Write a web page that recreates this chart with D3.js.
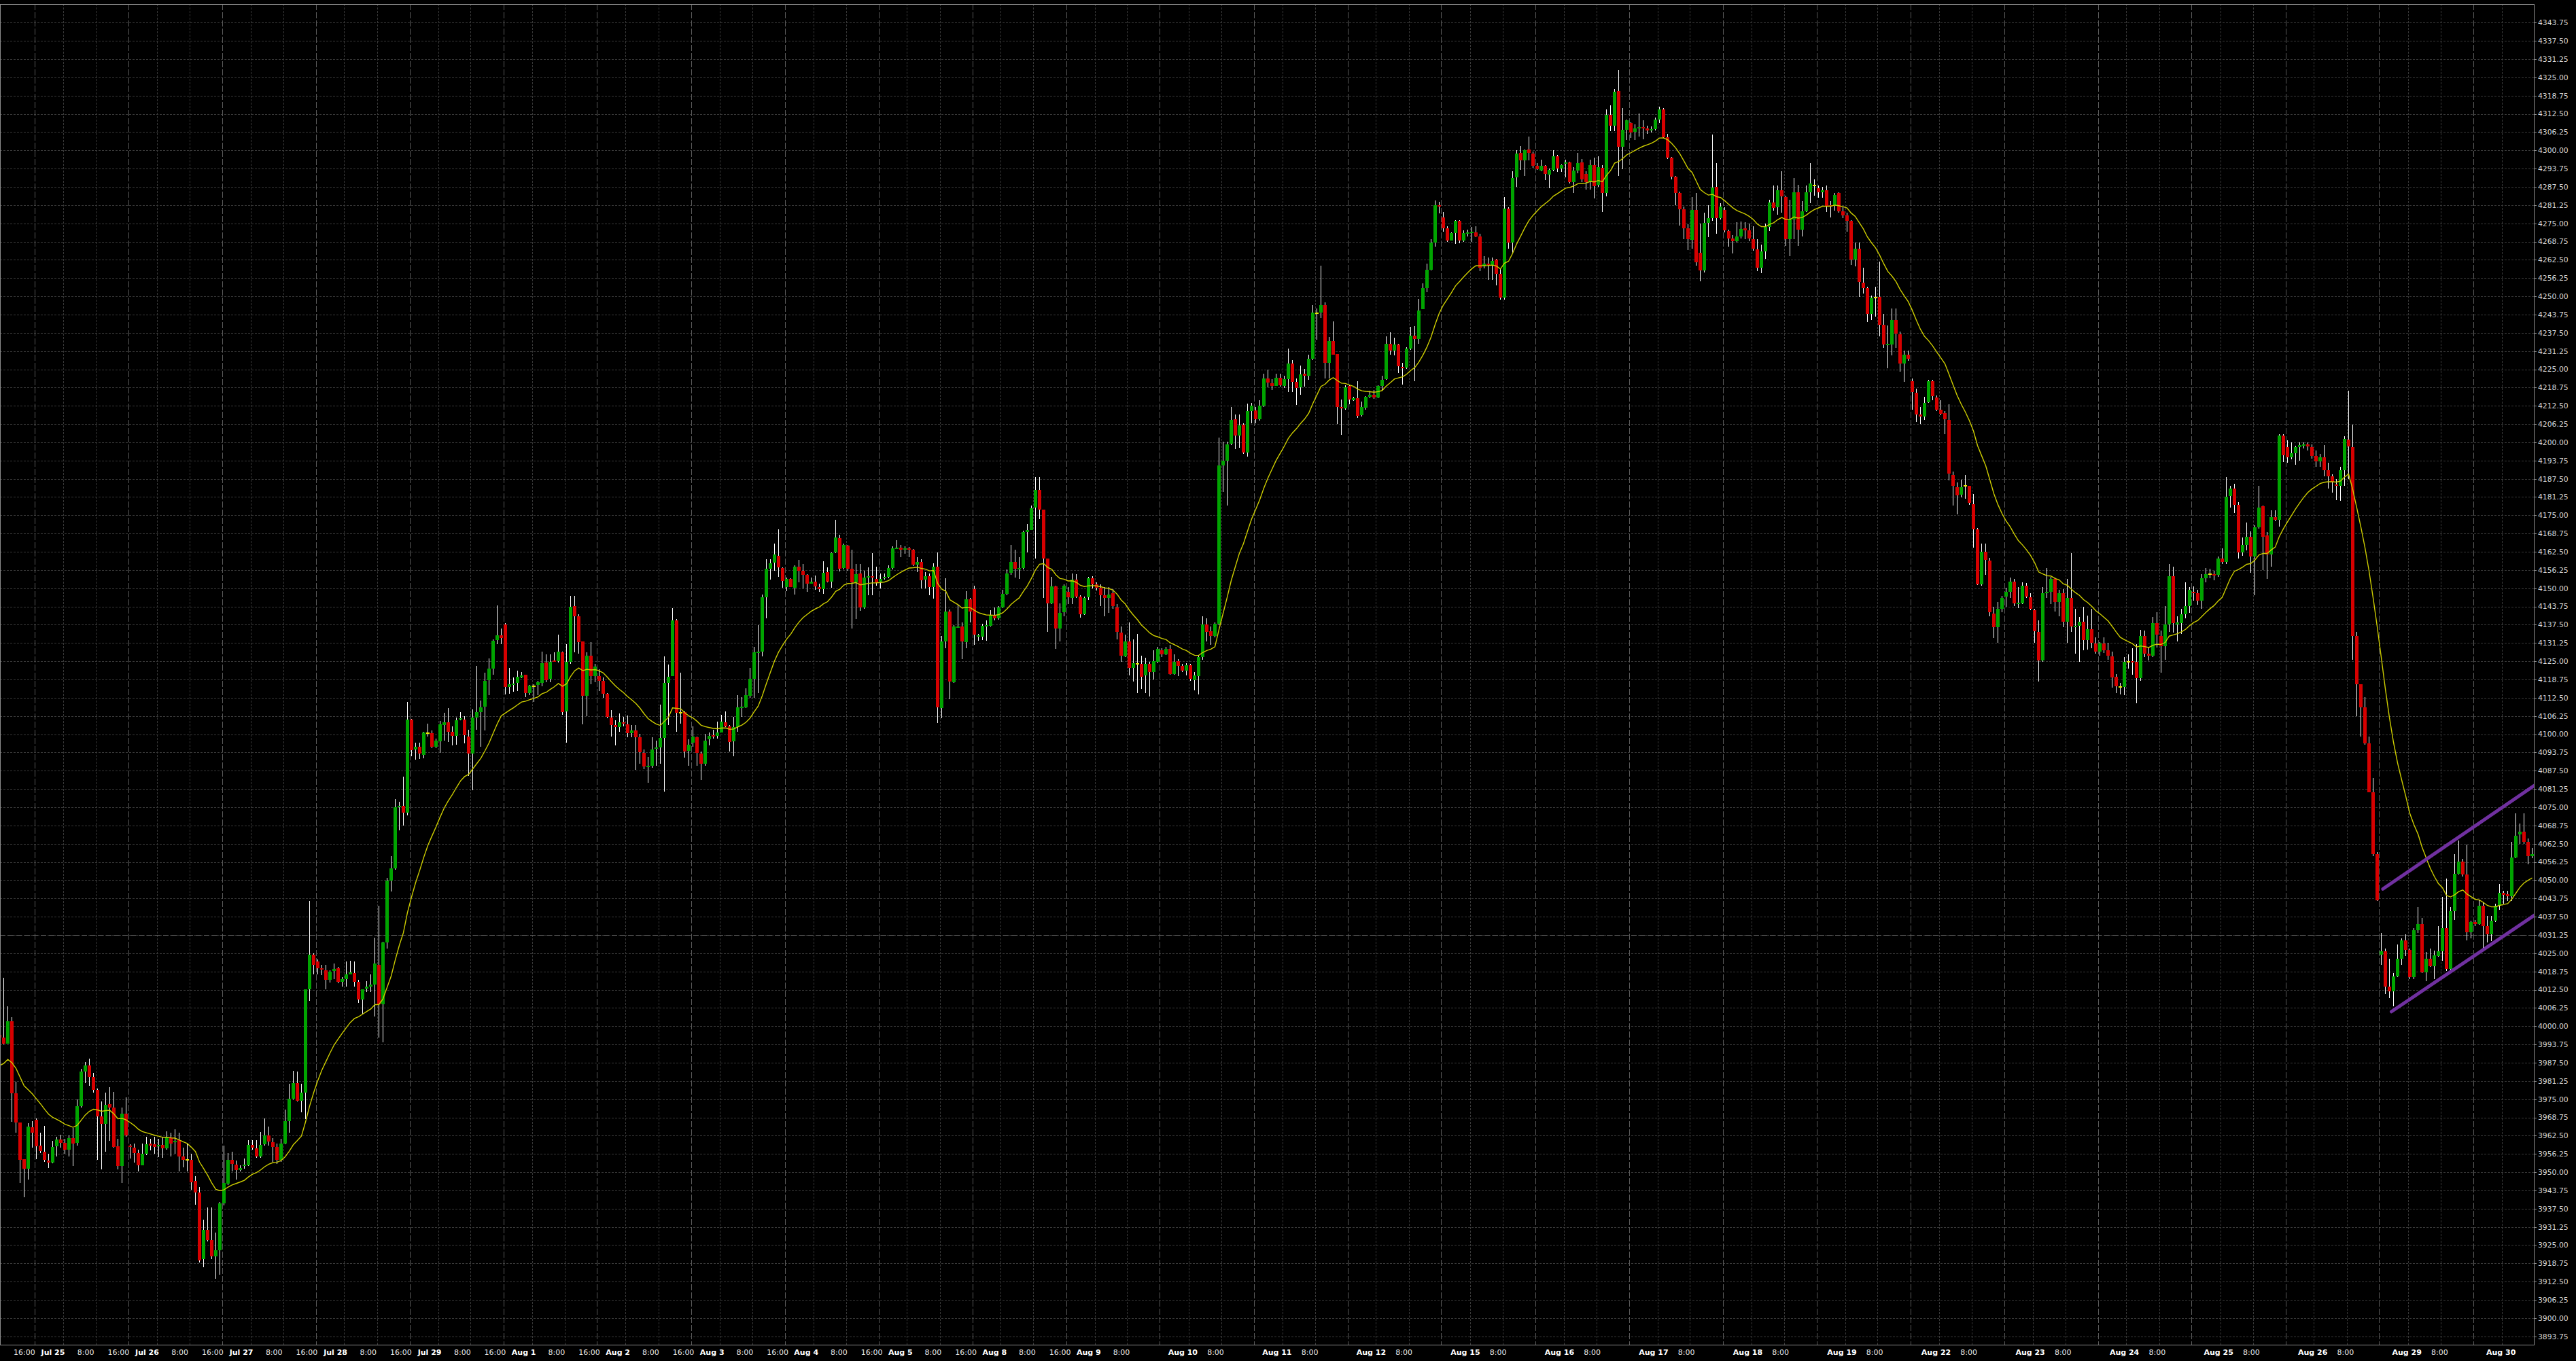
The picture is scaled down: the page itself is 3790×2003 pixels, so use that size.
<!DOCTYPE html>
<html><head><meta charset="utf-8">
<script src="https://cdn.jsdelivr.net/npm/d3@7"></script>
<style>html,body{margin:0;padding:0;background:#000;overflow:hidden}</style>
</head><body><svg id="c" width="3790" height="2003"></svg>
<script>
// ---------- DATA (hourly OHLC) ----------
const open=[
3997.1,3996.2,3994.1,4001.6,3977.0,3967.0,3954.5,3951.2,3965.3,3968.0,
3959.0,3957.1,3953.9,3953.3,3958.9,3961.3,3960.1,3957.8,3961.6,3960.1,
3972.5,3984.5,3986.5,3982.7,3978.2,3969.2,3966.5,3973.4,3972.2,3958.9,
3952.1,3970.1,3959.2,3958.4,3956.5,3952.4,3956.2,3959.8,3959.5,3958.9,
3959.3,3958.1,3961.9,3960.2,3960.9,3955.4,3954.1,3954.1,3946.9,3943.0,
3920.2,3930.2,3926.8,3921.2,3923.2,3939.4,3946.1,3954.1,3952.6,3950.8,
3952.0,3952.3,3959.3,3958.1,3955.3,3959.5,3962.5,3960.2,3958.6,3954.2,
3959.8,3967.4,3975.2,3980.5,3974.5,3977.2,4012.7,4024.4,4022.2,4019.9,
4019.2,4015.9,4018.9,4019.9,4015.3,4016.2,4017.7,4018.1,4015.1,4009.1,
4012.9,4013.6,4014.2,4021.1,4007.5,4028.6,4049.9,4054.0,4074.9,4075.4,
4073.2,4105.0,4094.8,4095.8,4093.0,4100.4,4100.3,4095.7,4097.6,4103.2,
4104.1,4100.9,4099.5,4105.1,4105.0,4099.3,4093.4,4105.7,4107.5,4109.4,
4118.5,4122.4,4132.3,4133.9,4137.6,4116.2,4116.9,4117.5,4119.5,4120.3,
4114.0,4116.4,4116.9,4117.6,4124.5,4119.0,4125.2,4125.1,4128.0,4107.7,
4124.8,4143.9,4140.4,4131.8,4113.1,4126.8,4120.0,4119.9,4118.3,4113.8,
4105.8,4103.1,4102.4,4104.1,4103.4,4100.3,4101.3,4098.9,4093.6,4088.8,
4089.2,4095.0,4095.4,4098.8,4117.5,4119.9,4139.0,4107.4,4107.5,4094.4,
4097.2,4098.9,4093.4,4089.9,4098.3,4099.7,4099.5,4100.6,4104.1,4102.7,
4097.6,4102.4,4108.9,4109.3,4113.1,4119.1,4127.9,4128.4,4146.9,4156.6,
4158.7,4161.2,4157.0,4150.4,4153.2,4150.2,4157.5,4156.0,4154.7,4151.6,
4152.2,4150.5,4149.6,4155.5,4152.2,4162.3,4167.1,4157.0,4164.6,4156.7,
4152.1,4155.0,4143.5,4153.6,4154.1,4153.2,4152.2,4153.5,4153.8,4157.0,
4163.5,4164.0,4163.3,4163.6,4163.3,4158.1,4159.0,4152.9,4154.1,4150.5,
4157.3,4109.0,4131.9,4142.0,4117.9,4136.5,4136.8,4131.6,4146.2,4149.8,
4133.5,4133.5,4136.9,4137.1,4140.7,4139.6,4143.5,4148.0,4155.2,4159.1,
4156.5,4157.0,4169.2,4170.0,4177.6,4183.6,4177.0,4160.2,4144.8,4150.6,
4136.3,4141.7,4148.7,4146.6,4152.9,4147.2,4141.1,4146.8,4153.4,4151.3,
4150.1,4147.7,4146.6,4148.4,4143.5,4134.8,4126.7,4131.8,4122.8,4124.1,
4124.2,4120.2,4124.2,4121.4,4124.8,4128.8,4127.4,4129.2,4120.7,4125.0,
4123.4,4121.7,4123.6,4118.6,4120.0,4126.4,4137.6,4135.2,4133.7,4137.8,
4192.1,4193.6,4199.5,4207.8,4202.3,4206.1,4196.5,4210.7,4210.9,4208.0,
4212.6,4221.8,4220.2,4219.4,4222.2,4219.4,4221.6,4227.0,4220.7,4218.9,
4223.5,4222.7,4228.6,4244.2,4244.4,4247.0,4227.3,4234.7,4230.3,4212.1,
4211.7,4219.3,4214.5,4215.1,4209.3,4211.9,4215.6,4216.2,4215.3,4219.3,
4221.6,4233.7,4231.3,4233.4,4225.8,4225.5,4232.0,4236.6,4235.4,4245.5,
4252.9,4259.1,4268.4,4281.2,4277.0,4273.4,4269.2,4271.7,4275.9,4269.2,
4271.5,4271.8,4272.0,4270.5,4260.3,4261.3,4260.7,4262.5,4257.6,4249.5,
4280.0,4268.5,4290.8,4299.1,4296.6,4300.3,4298.9,4294.6,4293.1,4294.7,
4291.7,4293.2,4298.0,4293.8,4295.5,4295.9,4289.1,4293.1,4295.9,4291.8,
4289.1,4294.9,4288.2,4294.0,4285.5,4312.1,4308.4,4320.2,4301.3,4307.1,
4309.4,4306.3,4307.5,4307.9,4307.6,4306.9,4307.2,4310.6,4314.1,4304.5,
4297.4,4290.9,4285.3,4279.8,4273.2,4269.3,4279.6,4265.0,4258.9,4275.1,
4276.7,4287.4,4276.9,4279.6,4272.4,4269.7,4268.9,4270.5,4273.2,4272.5,
4269.6,4266.1,4259.9,4265.4,4273.8,4282.1,4280.6,4286.4,4284.0,4269.6,
4276.3,4285.7,4272.8,4279.0,4285.6,4288.0,4287.0,4285.6,4286.4,4281.2,
4280.9,4285.3,4279.0,4277.7,4275.8,4262.5,4266.2,4254.7,4252.8,4244.0,
4249.6,4249.8,4240.3,4233.4,4233.4,4241.8,4237.0,4226.9,4229.9,4221.0,
4217.0,4209.5,4208.9,4213.6,4220.9,4215.3,4211.2,4209.9,4207.6,4188.9,
4184.7,4182.0,4185.0,4185.0,4178.9,4170.1,4151.3,4162.6,4159.5,4141.3,
4136.6,4143.0,4147.1,4148.8,4152.3,4144.6,4144.8,4150.8,4146.9,4142.4,
4135.0,4125.2,4148.3,4148.7,4153.1,4145.2,4148.4,4138.5,4146.6,4136.7,
4137.2,4138.5,4132.3,4135.9,4131.1,4128.4,4131.0,4128.8,4126.6,4119.6,
4116.1,4116.1,4124.8,4125.0,4124.8,4119.3,4133.7,4127.7,4126.9,4138.0,
4133.7,4130.2,4137.7,4154.2,4137.7,4138.0,4141.1,4144.0,4148.8,4148.3,
4145.7,4153.5,4154.9,4154.9,4154.5,4160.2,4159.1,4181.7,4184.2,4178.6,
4162.2,4164.8,4167.6,4160.9,4170.8,4178.0,4168.0,4161.6,4174.4,4173.5,
4202.3,4198.3,4194.9,4196.3,4198.3,4198.9,4199.2,4198.3,4195.4,4193.5,
4194.9,4190.4,4188.4,4185.6,4185.2,4190.4,4201.0,4198.3,4133.7,4117.1,
4109.3,4096.8,4080.1,4059.0,4024.4,4025.7,4013.6,4012.0,4017.0,4023.0,
4029.4,4026.1,4016.7,4032.8,4035.0,4018.4,4023.2,4020.6,4024.1,4025.7,
4033.6,4019.5,4039.5,4052.2,4056.4,4051.9,4032.2,4035.7,4035.0,4041.3,
4034.3,4031.5,4036.1,4041.3,4045.6,4045.2,4044.6,4057.8,4065.6,4066.7,
4063.2,4058.3];
const high=[
3998.2,4016.5,4006.7,4003.0,3980.9,3967.0,3954.5,3966.7,3967.4,3968.5,
3963.4,3965.9,3956.2,3960.7,3962.2,3962.9,3961.4,3962.5,3965.2,3974.9,
3985.4,3987.7,3988.9,3983.9,3978.7,3974.2,3977.2,3979.0,3977.5,3961.4,
3972.2,3975.7,3959.5,3959.9,3957.7,3959.9,3962.2,3961.4,3962.2,3961.4,
3962.2,3963.9,3963.4,3964.6,3963.4,3958.4,3959.9,3956.2,3948.7,3944.9,
3933.7,3937.9,3937.9,3929.2,3939.7,3959.2,3956.5,3956.9,3953.9,3952.3,
3954.7,3961.0,3961.0,3961.0,3963.7,3968.5,3965.5,3961.6,3959.9,3961.4,
3971.5,3980.2,3984.7,3984.4,3980.2,4012.7,4042.9,4024.9,4022.9,4021.0,
4021.0,4019.2,4021.4,4020.2,4016.8,4022.2,4022.5,4022.2,4015.9,4012.7,
4015.4,4017.7,4030.4,4041.2,4028.9,4050.7,4058.2,4077.7,4076.9,4085.5,
4111.0,4105.3,4097.2,4097.2,4100.9,4103.6,4101.3,4098.5,4104.5,4107.3,
4108.9,4102.8,4105.7,4107.6,4106.3,4101.6,4108.4,4123.4,4111.5,4121.1,
4125.9,4132.5,4144.1,4136.1,4138.1,4122.8,4119.5,4121.7,4121.2,4120.5,
4117.0,4117.2,4118.2,4128.2,4127.4,4127.4,4128.0,4134.1,4128.4,4130.8,
4147.4,4147.4,4141.2,4131.9,4128.0,4131.5,4124.2,4122.2,4119.5,4114.1,
4108.2,4104.8,4107.1,4105.9,4106.5,4103.2,4103.2,4100.1,4094.7,4092.3,
4098.9,4097.8,4110.2,4126.6,4123.8,4143.2,4139.5,4121.1,4107.9,4098.2,
4102.8,4099.3,4094.0,4100.1,4100.5,4101.6,4104.4,4106.7,4107.9,4103.2,
4105.9,4113.3,4112.7,4115.8,4122.6,4130.0,4137.3,4147.8,4159.9,4159.9,
4165.4,4170.1,4157.1,4153.6,4153.4,4157.8,4159.7,4158.3,4154.8,4153.6,
4154.3,4151.5,4159.2,4157.2,4162.3,4173.4,4168.4,4165.4,4164.8,4163.1,
4158.3,4158.3,4156.0,4157.1,4162.1,4157.4,4155.0,4155.0,4157.9,4164.3,
4166.4,4164.8,4164.3,4164.1,4163.5,4160.7,4159.9,4155.5,4155.0,4158.6,
4162.2,4133.6,4153.4,4142.7,4137.3,4144.1,4138.3,4149.0,4146.6,4150.8,
4134.4,4137.8,4138.9,4142.5,4143.5,4144.0,4149.5,4156.5,4164.9,4163.3,
4160.7,4169.7,4172.1,4178.4,4188.0,4188.2,4177.0,4160.2,4153.9,4150.8,
4144.8,4151.3,4150.3,4155.0,4154.8,4147.7,4147.2,4153.9,4154.2,4152.1,
4151.3,4150.3,4150.3,4149.8,4144.6,4136.8,4134.2,4138.3,4132.6,4134.4,
4126.9,4126.1,4124.8,4128.8,4130.0,4129.5,4130.0,4130.6,4127.4,4125.7,
4124.0,4124.3,4124.0,4121.2,4127.1,4140.4,4139.6,4136.8,4138.3,4201.7,
4200.2,4200.2,4212.1,4209.5,4209.5,4206.4,4213.2,4213.4,4212.1,4214.4,
4223.4,4224.8,4221.6,4223.5,4223.5,4222.7,4232.2,4228.2,4221.8,4226.3,
4225.2,4229.9,4247.0,4245.9,4260.5,4247.9,4236.1,4241.3,4230.3,4214.6,
4219.5,4219.5,4215.5,4220.9,4213.9,4215.9,4217.6,4218.0,4219.5,4222.7,
4236.2,4237.6,4235.8,4233.7,4227.3,4232.6,4239.6,4239.8,4249.2,4254.4,
4261.3,4269.5,4282.8,4282.3,4278.8,4274.0,4272.0,4276.0,4276.1,4272.7,
4272.8,4273.7,4274.0,4271.5,4263.7,4263.3,4263.3,4262.9,4259.5,4284.0,
4280.6,4292.9,4300.1,4301.4,4300.3,4304.8,4299.7,4295.7,4296.7,4294.9,
4293.8,4300.1,4298.4,4295.2,4296.9,4296.0,4294.2,4299.1,4297.1,4292.9,
4296.9,4297.6,4298.0,4294.9,4314.1,4315.5,4321.1,4327.6,4314.5,4310.6,
4309.6,4309.0,4312.6,4310.2,4308.4,4308.2,4311.3,4314.9,4314.5,4305.6,
4297.7,4291.2,4285.9,4280.8,4274.6,4284.0,4285.3,4275.0,4278.6,4281.2,
4305.3,4295.7,4281.8,4280.5,4272.8,4270.9,4275.3,4275.6,4275.4,4275.0,
4274.0,4269.6,4267.6,4275.0,4283.1,4287.9,4287.9,4292.8,4284.4,4283.1,
4290.6,4288.3,4282.7,4287.9,4295.7,4290.0,4287.9,4287.4,4287.9,4282.7,
4285.3,4285.6,4280.4,4278.6,4276.0,4268.3,4268.5,4259.8,4253.3,4250.2,
4253.3,4261.8,4244.0,4239.9,4245.8,4245.8,4237.9,4231.5,4231.5,4221.8,
4218.4,4212.1,4215.6,4221.3,4221.3,4216.0,4214.3,4210.8,4213.0,4190.0,
4186.3,4187.2,4188.9,4185.0,4182.4,4170.6,4165.2,4165.2,4160.4,4143.7,
4145.3,4147.4,4150.1,4153.6,4153.3,4150.5,4152.1,4151.8,4148.2,4143.0,
4138.9,4150.5,4157.0,4154.0,4153.6,4149.5,4149.7,4153.3,4162.0,4143.0,
4140.2,4143.7,4140.7,4143.0,4133.3,4131.6,4133.3,4131.4,4128.2,4120.7,
4117.5,4126.4,4127.4,4129.5,4130.9,4135.8,4135.6,4129.8,4140.1,4141.9,
4135.4,4143.9,4158.4,4157.4,4140.5,4142.9,4152.1,4150.4,4150.6,4149.5,
4154.9,4157.0,4156.6,4156.0,4160.8,4163.6,4188.0,4185.2,4185.9,4179.6,
4167.3,4172.5,4169.6,4171.5,4185.1,4178.4,4169.3,4176.7,4176.7,4202.8,
4202.8,4200.7,4200.0,4198.9,4200.0,4200.0,4200.0,4199.3,4197.2,4196.1,
4199.0,4192.9,4189.0,4187.3,4191.5,4202.1,4217.6,4206.1,4135.1,4117.1,
4112.6,4099.2,4085.1,4059.7,4031.9,4026.5,4023.0,4018.1,4027.9,4030.1,
4031.5,4026.5,4033.6,4040.9,4037.1,4025.4,4026.5,4025.8,4034.3,4044.2,
4050.5,4040.9,4059.0,4063.5,4057.3,4062.1,4036.1,4036.4,4043.2,4042.3,
4037.8,4037.8,4042.0,4048.8,4046.3,4046.3,4063.2,4072.8,4069.5,4072.8,
4064.3,4061.1];
const low=[
3995.2,3993.7,3994.1,3967.3,3963.4,3946.4,3941.5,3947.5,3958.4,3954.4,
3956.5,3953.5,3951.4,3953.0,3955.4,3958.4,3956.2,3955.3,3952.1,3959.2,
3972.2,3980.5,3979.6,3977.2,3954.2,3950.9,3956.9,3960.7,3958.4,3950.9,
3946.3,3962.2,3954.7,3953.2,3950.2,3952.3,3955.9,3957.4,3956.2,3955.1,
3955.0,3957.7,3955.3,3956.2,3950.2,3951.7,3950.2,3943.9,3938.9,3919.0,
3917.5,3926.2,3920.2,3913.4,3914.9,3938.5,3945.7,3950.2,3947.5,3950.2,
3951.2,3952.0,3957.7,3955.0,3955.0,3959.2,3959.2,3953.5,3952.7,3953.6,
3959.6,3963.4,3974.9,3974.2,3970.4,3968.2,4008.7,4017.7,4017.7,4017.4,
4012.7,4015.0,4016.2,4014.7,4013.6,4013.5,4017.7,4013.5,4007.9,4004.2,
4011.7,4011.7,4003.4,3996.2,3994.4,4026.7,4046.2,4053.7,4067.2,4068.7,
4072.1,4092.4,4091.2,4091.5,4091.7,4099.3,4095.3,4095.3,4093.6,4097.8,
4097.4,4096.2,4096.4,4104.8,4096.8,4085.7,4080.9,4101.6,4095.6,4101.3,
4113.4,4120.3,4130.9,4130.9,4113.7,4113.8,4114.5,4114.8,4119.3,4112.7,
4113.4,4111.0,4113.5,4116.4,4117.9,4117.9,4124.9,4124.5,4106.7,4097.0,
4124.2,4128.0,4127.6,4103.5,4106.3,4117.2,4117.9,4114.8,4112.5,4105.5,
4099.1,4096.2,4100.9,4102.8,4098.9,4098.9,4087.8,4090.0,4088.0,4083.4,
4088.5,4089.2,4090.0,4080.3,4103.2,4119.9,4100.9,4103.6,4091.9,4089.2,
4095.8,4089.2,4084.4,4089.1,4096.1,4098.5,4098.5,4100.5,4102.4,4094.1,
4092.5,4100.9,4105.9,4109.0,4112.4,4112.5,4114.1,4126.7,4139.7,4152.9,
4156.0,4154.0,4150.1,4149.1,4150.3,4147.9,4152.1,4150.0,4148.8,4151.5,
4149.4,4148.8,4148.1,4152.1,4150.1,4162.0,4155.8,4156.5,4156.0,4136.1,
4139.4,4142.3,4143.0,4147.5,4147.5,4150.8,4150.0,4152.9,4153.4,4156.5,
4163.5,4160.7,4161.7,4160.7,4157.6,4155.5,4150.0,4150.0,4147.7,4146.5,
4103.9,4105.6,4129.5,4112.1,4117.6,4136.5,4125.7,4129.5,4138.3,4130.6,
4132.1,4132.3,4132.1,4137.0,4138.9,4139.2,4143.3,4147.7,4154.5,4153.7,
4153.1,4156.5,4162.2,4170.0,4160.2,4173.7,4146.6,4135.0,4144.6,4129.2,
4131.9,4140.4,4144.6,4144.6,4146.6,4139.9,4140.9,4146.1,4150.0,4149.3,
4143.9,4140.4,4141.5,4143.0,4132.6,4124.8,4126.4,4120.2,4118.1,4114.2,
4115.5,4114.2,4112.9,4118.8,4124.3,4126.4,4127.1,4120.5,4120.5,4119.9,
4121.2,4120.2,4118.4,4115.0,4113.6,4125.4,4131.9,4130.6,4133.1,4137.3,
4183.0,4178.4,4199.1,4197.6,4198.1,4196.0,4195.0,4206.4,4206.4,4207.5,
4212.1,4218.9,4218.0,4219.2,4219.0,4218.7,4217.2,4217.3,4212.8,4216.3,
4219.0,4221.4,4228.2,4235.1,4242.6,4221.8,4221.8,4229.9,4206.2,4202.6,
4211.2,4212.9,4214.2,4208.3,4208.9,4211.2,4215.1,4214.8,4215.1,4217.6,
4221.4,4229.9,4229.7,4223.8,4219.7,4225.2,4231.6,4221.0,4233.7,4245.5,
4251.4,4258.8,4266.9,4278.5,4272.2,4268.6,4269.0,4268.0,4268.1,4268.6,
4270.5,4268.6,4270.3,4258.6,4259.6,4255.7,4255.7,4253.7,4248.9,4248.9,
4266.2,4264.6,4287.6,4293.2,4291.2,4296.6,4294.0,4293.2,4292.9,4289.9,
4287.0,4292.9,4292.5,4292.6,4290.8,4288.7,4285.3,4292.1,4289.1,4286.6,
4286.6,4283.6,4287.4,4278.8,4284.2,4306.5,4306.5,4291.2,4293.6,4303.6,
4304.2,4303.5,4304.8,4303.8,4305.6,4306.0,4306.9,4309.4,4304.2,4297.1,
4290.0,4281.1,4274.3,4269.5,4265.8,4266.3,4260.5,4255.1,4258.2,4270.2,
4275.8,4271.5,4276.3,4271.9,4267.0,4264.7,4268.3,4269.8,4269.6,4268.9,
4265.7,4258.6,4258.0,4262.9,4272.4,4279.3,4278.0,4278.6,4267.3,4263.8,
4269.6,4267.3,4270.6,4278.9,4281.8,4284.4,4283.8,4283.8,4278.9,4277.1,
4279.3,4278.6,4276.9,4272.2,4260.8,4260.3,4249.9,4250.9,4241.2,4241.8,
4243.1,4236.3,4232.4,4225.4,4229.8,4232.4,4224.1,4220.8,4228.0,4211.2,
4206.9,4206.3,4207.6,4213.4,4214.3,4210.8,4209.4,4202.7,4186.9,4178.3,
4175.3,4181.1,4180.7,4178.5,4163.9,4151.1,4150.8,4154.6,4140.4,4132.9,
4131.4,4141.7,4143.7,4146.6,4143.9,4143.3,4144.6,4146.6,4142.4,4131.4,
4118.1,4124.7,4146.6,4144.6,4142.0,4140.4,4136.6,4131.4,4135.0,4127.5,
4124.9,4128.8,4129.1,4129.5,4127.5,4126.9,4127.8,4125.6,4115.9,4114.0,
4113.7,4113.3,4122.4,4120.3,4110.7,4118.2,4126.4,4125.3,4126.4,4129.8,
4121.0,4125.5,4135.1,4134.8,4131.9,4134.4,4139.6,4141.5,4145.7,4144.3,
4142.9,4152.1,4153.5,4152.8,4153.8,4158.4,4158.4,4177.7,4175.8,4160.2,
4161.2,4163.0,4155.3,4147.5,4170.4,4156.3,4153.2,4157.4,4172.9,4171.1,
4193.2,4192.9,4194.1,4192.2,4193.7,4197.9,4197.2,4194.4,4191.5,4191.5,
4188.4,4184.2,4182.8,4180.3,4180.0,4185.2,4187.3,4125.5,4106.2,4099.2,
4096.3,4080.1,4058.3,4042.8,4020.9,4011.0,4009.6,4006.8,4016.7,4020.9,
4024.0,4016.0,4016.0,4031.9,4018.1,4015.5,4020.2,4016.0,4023.7,4022.3,
4018.8,4019.2,4036.4,4051.9,4051.2,4029.4,4030.1,4034.3,4034.7,4026.8,
4028.6,4029.1,4035.7,4039.9,4042.0,4042.8,4042.8,4057.6,4062.5,4062.5,
4055.5,4057.6];
const close=[
3996.2,3994.1,4001.6,3977.0,3967.0,3954.2,3951.1,3965.6,3963.5,3958.9,
3957.2,3954.2,3953.3,3958.7,3961.3,3960.1,3957.8,3961.6,3959.8,3972.5,
3984.5,3986.5,3982.7,3978.2,3969.2,3966.5,3973.1,3972.2,3958.7,3952.1,
3970.1,3962.5,3958.6,3956.5,3952.4,3956.2,3959.6,3959.2,3958.6,3959.3,
3958.1,3961.9,3959.9,3960.8,3955.4,3954.2,3954.1,3946.6,3943.0,3919.7,
3930.2,3926.8,3921.2,3923.3,3939.4,3946.3,3954.1,3952.7,3950.8,3951.5,
3952.6,3959.3,3958.3,3955.3,3959.3,3962.5,3960.5,3958.7,3954.2,3959.8,
3967.4,3975.2,3980.5,3974.5,3977.2,4012.7,4024.4,4021.0,4019.9,4019.3,
4015.9,4018.7,4019.5,4015.3,4016.2,4017.8,4018.4,4015.3,4009.1,4012.6,
4013.5,4014.2,4021.4,4007.5,4028.6,4049.9,4054.0,4075.1,4075.4,4073.2,
4105.0,4094.5,4095.8,4093.4,4100.5,4100.4,4095.7,4097.8,4103.4,4104.2,
4100.9,4099.5,4104.8,4105.4,4099.7,4093.4,4105.7,4107.5,4109.3,4118.3,
4122.4,4132.0,4133.9,4132.9,4116.2,4117.2,4117.4,4119.6,4120.1,4114.2,
4116.7,4116.4,4117.8,4124.3,4118.5,4124.9,4124.9,4128.2,4107.5,4124.8,
4143.6,4140.5,4131.6,4113.1,4126.8,4120.0,4123.1,4118.3,4113.9,4105.9,
4103.2,4102.4,4104.0,4103.6,4100.3,4101.2,4098.9,4093.9,4088.9,4089.2,
4094.7,4095.4,4098.7,4117.5,4119.6,4139.0,4107.4,4107.4,4094.1,4096.4,
4099.1,4093.7,4090.0,4097.9,4099.4,4099.3,4100.6,4104.4,4102.8,4097.4,
4102.4,4109.1,4109.3,4113.3,4118.9,4128.0,4128.4,4146.9,4156.6,4158.6,
4161.6,4157.1,4152.5,4153.3,4150.4,4157.5,4156.0,4154.7,4151.5,4152.2,
4150.7,4149.8,4155.2,4152.2,4162.0,4167.3,4156.7,4164.8,4156.7,4152.1,
4154.8,4143.5,4153.6,4154.1,4153.6,4152.1,4153.2,4153.8,4157.0,4163.7,
4164.0,4163.3,4163.6,4163.3,4158.1,4159.0,4152.7,4154.1,4150.5,4157.3,
4109.2,4131.9,4142.0,4118.1,4136.8,4136.9,4131.9,4146.2,4142.0,4134.0,
4133.9,4137.1,4137.2,4140.7,4139.7,4143.5,4148.0,4155.0,4159.1,4156.7,
4157.0,4169.2,4170.0,4177.5,4183.6,4177.0,4160.2,4144.8,4150.6,4136.3,
4141.5,4150.8,4146.9,4152.9,4147.2,4141.1,4146.6,4153.4,4151.3,4150.1,
4147.7,4146.6,4147.9,4143.9,4135.0,4126.9,4131.8,4122.8,4124.3,4124.1,
4119.8,4124.2,4121.4,4125.0,4129.3,4127.4,4129.2,4120.7,4124.8,4123.3,
4121.7,4123.6,4119.1,4120.2,4126.4,4137.6,4135.0,4133.7,4137.8,4192.1,
4193.6,4199.2,4207.6,4202.3,4205.9,4196.5,4210.7,4212.6,4208.0,4212.6,
4221.9,4220.4,4219.4,4222.2,4219.6,4221.6,4227.0,4220.8,4218.7,4223.3,
4222.7,4228.6,4244.4,4244.2,4247.0,4227.1,4234.7,4230.0,4212.1,4211.7,
4218.9,4214.6,4215.1,4209.1,4212.1,4215.6,4216.2,4215.3,4219.3,4221.4,
4233.7,4231.4,4233.5,4226.1,4225.5,4232.0,4236.6,4235.4,4245.1,4252.7,
4259.1,4268.4,4281.2,4280.8,4273.4,4269.2,4271.7,4275.9,4269.2,4271.7,
4272.0,4272.2,4270.5,4259.8,4261.3,4260.7,4262.2,4257.6,4249.5,4280.0,
4268.5,4290.5,4298.9,4296.6,4300.1,4299.2,4294.6,4293.5,4294.7,4292.0,
4293.3,4298.0,4293.7,4294.9,4295.9,4289.1,4293.1,4295.7,4290.1,4289.1,
4294.9,4287.8,4294.2,4285.3,4312.1,4308.4,4320.1,4301.3,4307.1,4310.3,
4306.2,4307.6,4307.9,4307.6,4306.7,4307.3,4310.5,4314.1,4304.5,4297.6,
4290.9,4285.5,4279.8,4273.2,4269.6,4279.6,4261.6,4258.9,4275.1,4276.7,
4287.3,4276.9,4280.7,4272.5,4269.7,4268.9,4270.5,4273.1,4272.7,4269.7,
4266.3,4259.9,4265.4,4273.7,4282.1,4280.3,4286.4,4284.2,4269.6,4276.3,
4285.7,4272.8,4279.0,4285.6,4288.7,4288.0,4285.6,4286.4,4280.9,4280.8,
4284.7,4279.1,4277.8,4275.8,4262.5,4266.2,4254.9,4252.8,4244.0,4249.6,
4249.6,4240.3,4233.4,4233.7,4241.8,4237.3,4226.9,4229.9,4228.6,4217.1,
4209.5,4208.9,4213.4,4220.9,4215.7,4211.2,4209.8,4207.8,4189.2,4185.0,
4181.8,4184.7,4185.0,4179.2,4170.1,4151.4,4162.6,4159.8,4141.7,4136.6,
4143.0,4146.6,4148.8,4152.3,4144.9,4145.1,4150.8,4147.1,4143.0,4135.3,
4125.2,4148.4,4148.8,4153.1,4145.4,4148.4,4138.5,4146.6,4136.8,4137.2,
4138.5,4132.3,4135.9,4131.4,4128.2,4131.0,4128.8,4126.9,4119.5,4116.4,
4116.1,4124.8,4124.8,4124.6,4119.3,4133.6,4127.7,4126.9,4138.0,4134.0,
4130.2,4137.7,4154.2,4138.0,4138.2,4141.1,4144.0,4149.5,4148.3,4145.7,
4153.5,4154.9,4154.9,4154.5,4160.2,4159.1,4181.4,4184.2,4178.6,4162.2,
4164.8,4167.6,4160.9,4170.8,4177.7,4167.6,4161.6,4174.4,4173.5,4202.3,
4195.5,4194.8,4196.3,4198.3,4199.0,4199.2,4198.5,4195.4,4193.5,4194.9,
4190.4,4188.4,4186.3,4185.2,4190.4,4201.1,4198.6,4133.7,4117.1,4109.3,
4096.8,4080.1,4059.0,4043.2,4025.7,4013.6,4012.0,4017.0,4023.0,4029.4,
4026.1,4016.7,4032.8,4035.0,4018.4,4023.2,4020.6,4024.3,4025.7,4033.6,
4019.5,4039.5,4052.2,4056.4,4051.9,4032.2,4035.7,4035.0,4041.3,4034.3,
4031.5,4036.1,4041.3,4045.6,4044.9,4044.6,4057.8,4065.2,4066.7,4063.2,
4058.3,4059.0];

// sessions (each 23 hourly bars, first session starts at bar 9)
const sessionLabels=["Jul 25","Jul 26","Jul 27","Jul 28","Jul 29","Aug 1","Aug 2","Aug 3","Aug 4","Aug 5",
  "Aug 8","Aug 9","Aug 10","Aug 11","Aug 12","Aug 15","Aug 16","Aug 17","Aug 18","Aug 19",
  "Aug 22","Aug 23","Aug 24","Aug 25","Aug 26","Aug 29","Aug 30"];
const firstSessionBar=9, barsPerSession=23, midnightOffset=7, morningOffset=15;
const closeLabel="16:00", morningLabel="8:00";
const closeLabelLastSession=11;            // "16:00" labels shown up to "Aug 9"
const yTickFirst=3893.75, yTickStep=6.25, yTickCount=73;
const maPeriod=20, maSeed=3985.5;          // EMA(20) of close, value before first bar
const markedLevel=4031.25;
const channelUpper=[[584.4,4047.0],[622,4082.9]];
const channelLower=[[586.5,4005.0],[622,4038.4]];

// ---------- LAYOUT ----------
const plotR=3728, plotT=6, plotB=1979;
const svg=d3.select("#c");
svg.append("rect").attr("width",3790).attr("height",2003).attr("fill","#000");
const x=d3.scaleLinear().domain([0,621]).range([-0.5,3725.5]);
const y=d3.scaleLinear().domain([3890.9,4350.1]).range([plotB,plotT]);
const labelX=d3.scaleLinear().domain([92.5,3680.5]).range([78,3679.7]);

svg.append("defs").append("clipPath").attr("id","clip")
  .append("rect").attr("x",0).attr("y",plotT).attr("width",plotR).attr("height",plotB-plotT);

const grid=svg.append("g").attr("shape-rendering","crispEdges");
const yTicks=d3.range(yTickCount).map(i=>yTickFirst+i*yTickStep);
grid.selectAll("line.h").data(yTicks).join("line").attr("class","h")
  .attr("x1",0).attr("x2",plotR).attr("y1",d=>Math.round(y(d))+0.5).attr("y2",d=>Math.round(y(d))+0.5)
  .attr("stroke","#383838").attr("stroke-dasharray","3,2");

const vlines=[];
sessionLabels.forEach((lab,d)=>{
  const b=firstSessionBar+d*barsPerSession;
  vlines.push({b:b,type:"close",text:d<=closeLabelLastSession?closeLabel:null});
  vlines.push({b:b+midnightOffset,type:"date",text:lab});
  vlines.push({b:b+morningOffset,type:"morning",text:morningLabel});
});
const vIn=vlines.filter(v=>x(v.b-0.5)>0 && x(v.b-0.5)<plotR);
grid.selectAll("line.v").data(vIn).join("line").attr("class","v")
  .attr("x1",v=>Math.round(x(v.b-0.5))+0.5).attr("x2",v=>Math.round(x(v.b-0.5))+0.5)
  .attr("y1",plotT).attr("y2",plotB)
  .attr("stroke",v=>v.type==="close"?"#5a5a5a":"#383838")
  .attr("stroke-dasharray",v=>v.type==="close"?"9,3":"3,2");

grid.append("line").attr("x1",0).attr("x2",plotR)
  .attr("y1",Math.round(y(markedLevel))+0.5).attr("y2",Math.round(y(markedLevel))+0.5)
  .attr("stroke","#5e5e5e").attr("stroke-dasharray","8,4");

// ---------- CANDLES ----------
const n=close.length, idx=d3.range(n);
const cg=svg.append("g").attr("clip-path","url(#clip)").attr("shape-rendering","crispEdges");
cg.selectAll("line.w").data(idx).join("line").attr("class","w")
  .attr("x1",i=>x(i)).attr("x2",i=>x(i))
  .attr("y1",i=>y(Math.max(high[i],open[i],close[i]))).attr("y2",i=>y(Math.min(low[i],open[i],close[i])))
  .attr("stroke","#ffffff").attr("stroke-width",1);
cg.selectAll("rect.b").data(idx).join("rect").attr("class","b")
  .attr("x",i=>x(i)-2.5).attr("width",5)
  .attr("y",i=>{const t=y(Math.max(open[i],close[i])),bt=y(Math.min(open[i],close[i]));return bt-t<2?(t+bt)/2-1:t;})
  .attr("height",i=>Math.max(2,y(Math.min(open[i],close[i]))-y(Math.max(open[i],close[i]))))
  .attr("fill",i=>close[i]>open[i]?"#00a400":(close[i]<open[i]?"#d60000":"#e8e800"));

// ---------- EMA ----------
const a=2/(maPeriod+1); let e=maSeed;
const ema=close.map(c=>(e=e+a*(c-e)));
svg.append("path").attr("clip-path","url(#clip)").datum(idx)
  .attr("d",d3.line().x(i=>x(i)).y(i=>y(ema[i])))
  .attr("fill","none").attr("stroke","#cccc00").attr("stroke-width",1.4);

// ---------- CHANNEL ----------
const lineGen=d3.line().x(p=>x(p[0])).y(p=>y(p[1]));
[channelUpper,channelLower].forEach(c=>{
  svg.append("path").attr("clip-path","url(#clip)").datum(c).attr("d",lineGen)
    .attr("fill","none").attr("stroke","#7030a0").attr("stroke-width",5).attr("stroke-linecap","round");
});

// ---------- FRAME & AXES ----------
const fr=svg.append("g").attr("shape-rendering","crispEdges");
fr.append("rect").attr("x",0.5).attr("y",plotT+0.5).attr("width",plotR).attr("height",plotB-plotT)
  .attr("fill","none").attr("stroke","#8c8c8c");
fr.selectAll("line.t").data(yTicks).join("line").attr("class","t")
  .attr("x1",plotR).attr("x2",plotR+4).attr("y1",d=>Math.round(y(d))+0.5).attr("y2",d=>Math.round(y(d))+0.5)
  .attr("stroke","#8c8c8c");
svg.selectAll("text.yl").data(yTicks).join("text").attr("class","yl")
  .attr("x",3734).attr("y",d=>y(d)).attr("dy","0.36em")
  .attr("font-family","DejaVu Sans").attr("font-size","10.8px").attr("fill","#d8d8d8")
  .text(d=>d.toFixed(2));

const lab=vlines.filter(v=>v.text && labelX(x(v.b-0.5))>5 && labelX(x(v.b-0.5))<3705);
svg.selectAll("text.xl").data(lab).join("text").attr("class","xl")
  .attr("x",v=>labelX(x(v.b-0.5))).attr("y",1994).attr("text-anchor","middle")
  .attr("font-family","DejaVu Sans").attr("font-size","11px")
  .attr("font-weight",v=>v.type==="date"?"bold":"normal")
  .attr("fill",v=>v.type==="date"?"#ffffff":"#e6e6e6")
  .text(v=>v.text);
</script></body></html>
